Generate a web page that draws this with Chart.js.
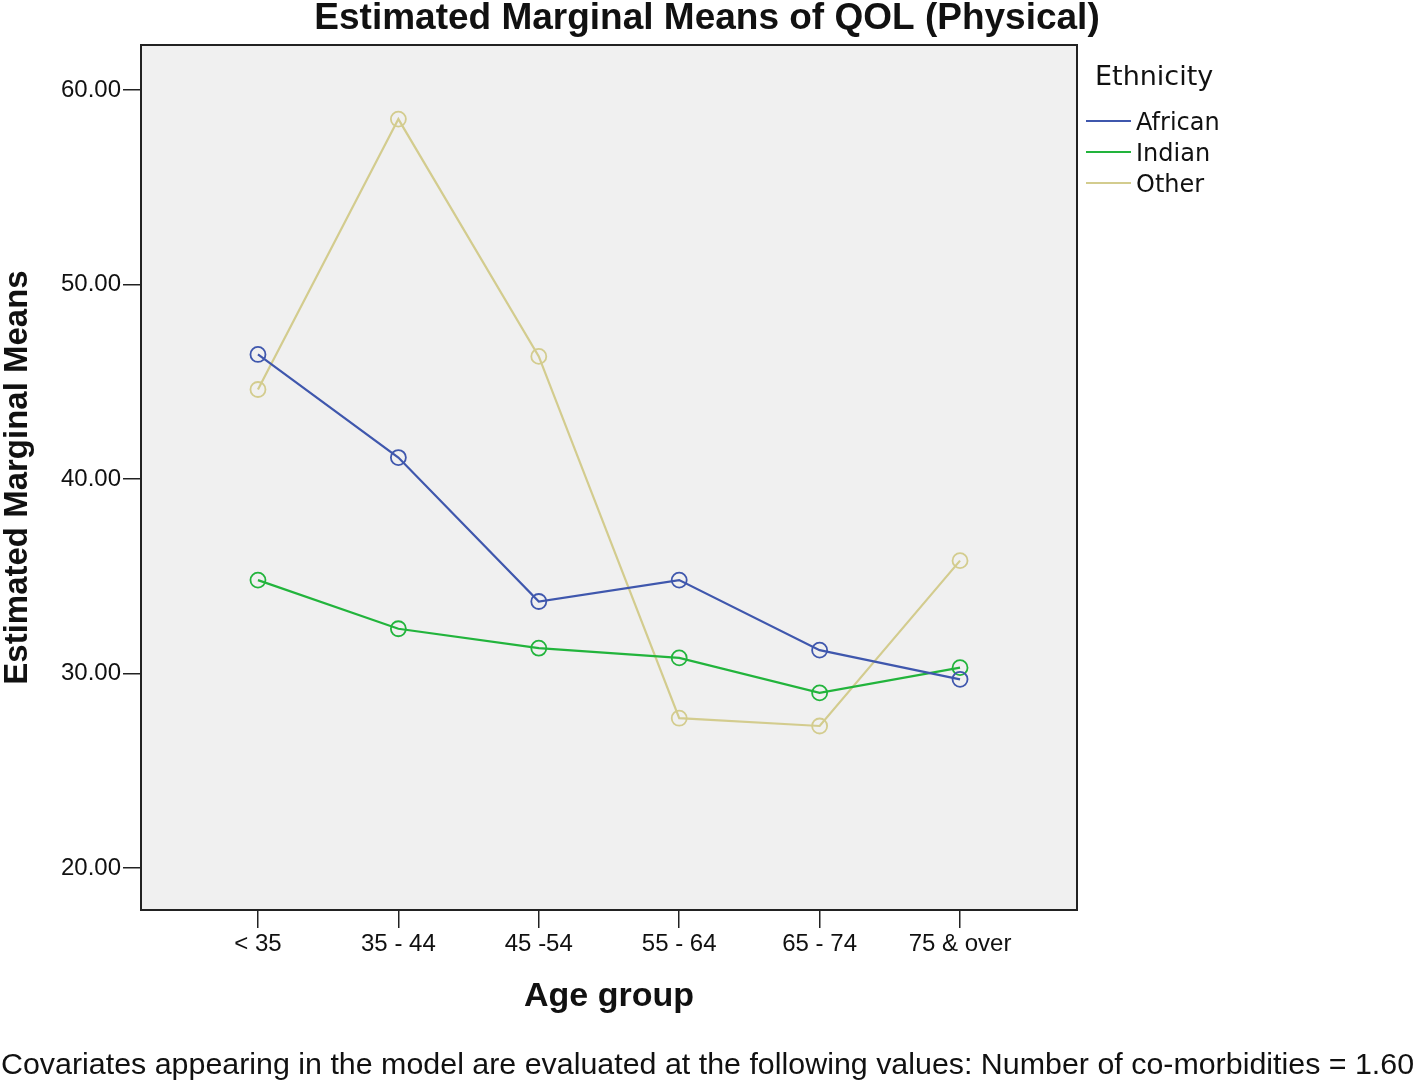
<!DOCTYPE html>
<html>
<head>
<meta charset="utf-8">
<title>Estimated Marginal Means of QOL (Physical)</title>
<script src="https://cdn.jsdelivr.net/npm/chart.js@4.4.1/dist/chart.umd.min.js"></script>
<style>
  html, body { margin: 0; padding: 0; background: #fff; }
  #wrap { width: 1418px; height: 1086px; }
</style>
</head>
<body>
<div id="wrap"><canvas id="qolChart"></canvas></div>
<script>
// Datos
const ageGroups = ['< 35', '35 - 44', '45 -54', '55 - 64', '65 - 74', '75 & over'];
const african = [46.4, 41.1, 33.7, 34.8, 31.2, 29.7];
const indian = [34.8, 32.3, 31.3, 30.8, 29.0, 30.3];
const other = [44.6, 58.5, 46.3, 27.7, 27.3, 35.8];
const yTicks = [20, 30, 40, 50, 60];

const sans = '"Liberation Sans", Arial, sans-serif';
const plotBg = '#f0f0f0';

function toPoints(values) {
    return values.map((v, i) => ({ x: i, y: v }));
}

// Fondo y marco del área del gráfico
const plotFrame = {
    id: 'plotFrame',
    beforeDatasetsDraw(chart) {
        const { ctx, chartArea: a } = chart;
        ctx.save();
        ctx.fillStyle = plotBg;
        ctx.fillRect(a.left, a.top, a.right - a.left, a.bottom - a.top);
        ctx.strokeStyle = '#222';
        ctx.lineWidth = 2;
        ctx.strokeRect(a.left, a.top, a.right - a.left, a.bottom - a.top);
        ctx.restore();
    }
};

// Título centrado, leyenda a la derecha y nota al pie
const extras = {
    id: 'extras',
    afterDraw(chart) {
        const ctx = chart.ctx;
        ctx.save();
        ctx.fillStyle = '#111';
        ctx.textBaseline = 'middle';

        ctx.textAlign = 'center';
        ctx.font = 'bold 37px ' + sans;
        ctx.fillText('Estimated Marginal Means of QOL (Physical)', 707, 19);

        ctx.textAlign = 'left';
        ctx.font = '27px "DejaVu Sans", sans-serif';
        ctx.fillText('Ethnicity', 1095, 78);
        ctx.font = '24px "DejaVu Sans", sans-serif';
        const rows = [121, 152, 183];
        chart.data.datasets.forEach((ds, i) => {
            ctx.strokeStyle = ds.borderColor;
            ctx.lineWidth = 2.2;
            ctx.beginPath();
            ctx.moveTo(1086, rows[i]);
            ctx.lineTo(1131, rows[i]);
            ctx.stroke();
            ctx.fillText(ds.label, 1136, rows[i] + 3);
        });

        ctx.font = '30.4px ' + sans;
        ctx.fillText('Covariates appearing in the model are evaluated at the following values: Number of co-morbidities = 1.60', 1, 1066, 1414);
        ctx.restore();
    }
};

new Chart(document.getElementById('qolChart'), {
    type: 'line',
    data: {
        datasets: [
            { label: 'African', data: toPoints(african), borderColor: '#3f57ad' },
            { label: 'Indian', data: toPoints(indian), borderColor: '#22b43c' },
            { label: 'Other', data: toPoints(other), borderColor: '#d3cc8e' }
        ].map(ds => Object.assign(ds, {
            borderWidth: 2.2,
            pointRadius: 7.5,
            pointBorderWidth: 1.8,
            pointBackgroundColor: 'rgba(0,0,0,0)',
            pointBorderColor: ds.borderColor,
            tension: 0
        }))
    },
    options: {
        responsive: true,
        maintainAspectRatio: false,
        animation: false,
        layout: { padding: { top: 45, right: 341, bottom: 0, left: 0 } },
        plugins: {
            legend: { display: false },
            tooltip: { enabled: false },
            title: { display: false }
        },
        scales: {
            x: {
                type: 'linear',
                min: -0.833,
                max: 5.833,
                afterBuildTicks: s => { s.ticks = ageGroups.map((_, i) => ({ value: i })); },
                afterFit: s => { s.height = 176; },
                ticks: {
                    callback: v => ageGroups[v],
                    color: '#111',
                    padding: 2,
                    maxRotation: 0,
                    font: { family: sans, size: 24 }
                },
                grid: { drawOnChartArea: false, drawTicks: true, tickLength: 18, color: '#222', lineWidth: 1.5 },
                border: { display: false },
                title: {
                    display: true,
                    text: 'Age group',
                    color: '#111',
                    font: { family: sans, size: 34, weight: 'bold', lineHeight: 1.2 },
                    padding: { top: 0, bottom: 69 }
                }
            },
            y: {
                min: 17.84,
                max: 62.31,
                afterBuildTicks: s => { s.ticks = yTicks.map(v => ({ value: v })); },
                afterFit: s => { s.width = 141; },
                ticks: {
                    callback: v => v.toFixed(2),
                    color: '#111',
                    padding: 2,
                    font: { family: sans, size: 24 }
                },
                grid: { drawOnChartArea: false, drawTicks: true, tickLength: 18, color: '#222', lineWidth: 1.5 },
                border: { display: false },
                title: {
                    display: true,
                    text: 'Estimated Marginal Means',
                    color: '#111',
                    font: { family: sans, size: 33, weight: 'bold', lineHeight: 1.1 },
                    padding: { top: 0, bottom: 0 }
                }
            }
        }
    },
    plugins: [plotFrame, extras]
});
</script>
</body>
</html>
